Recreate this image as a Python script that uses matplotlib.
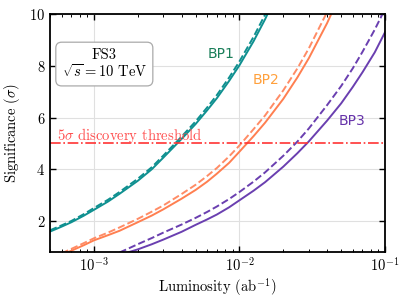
import matplotlib
matplotlib.use("Agg")
import matplotlib.pyplot as plt

plt.rcParams["font.family"] = "serif"
plt.rcParams["font.serif"] = ["cmr10"]
plt.rcParams["mathtext.fontset"] = "cm"
plt.rcParams["axes.formatter.use_mathtext"] = True

# luminosity (ab^-1) and significance
bp1_lumi = [5e-4, 6e-4, 7e-4, 8.5e-4, 1e-3, 1.25e-3, 1.5e-3, 2e-3, 2.5e-3, 3e-3, 4e-3,
            5e-3, 6e-3, 7e-3, 8.5e-3, 1e-2, 1.25e-2, 1.5e-2, 2e-2]
bp1_solid = [1.59, 1.78, 1.95, 2.2, 2.43, 2.75, 3.05, 3.55, 4.0, 4.45, 5.17,
             5.75, 6.28, 6.75, 7.42, 8.02, 8.95, 9.8, 11.3]
bp1_dash = [1.64, 1.83, 2.0, 2.26, 2.5, 2.82, 3.12, 3.63, 4.08, 4.53, 5.26,
            5.85, 6.39, 6.87, 7.55, 8.17, 9.12, 9.98, 11.5]

bp2_lumi = [6e-4, 7e-4, 8.5e-4, 1e-3, 1.25e-3, 1.5e-3, 2e-3, 2.5e-3, 3e-3, 4e-3, 5e-3,
            6e-3, 7e-3, 8.5e-3, 1e-2, 1.25e-2, 1.5e-2, 2e-2, 2.5e-2, 3e-2, 4e-2, 5e-2]
bp2_solid = [0.68, 0.85, 1.06, 1.25, 1.45, 1.62, 1.95, 2.21, 2.45, 2.86, 3.2,
             3.52, 3.83, 4.25, 4.68, 5.28, 5.8, 6.72, 7.55, 8.3, 9.65, 10.85]
bp2_dash = [0.75, 0.92, 1.14, 1.33, 1.55, 1.75, 2.08, 2.36, 2.6, 3.04, 3.4,
            3.74, 4.05, 4.5, 4.92, 5.55, 6.08, 7.05, 7.9, 8.68, 10.08, 11.3]

bp3_lumi = [1.5e-3, 1.75e-3, 2e-3, 2.5e-3, 3e-3, 4e-3, 5e-3, 6e-3, 7e-3, 8.5e-3, 1e-2,
            1.25e-2, 1.5e-2, 2e-2, 2.5e-2, 3e-2, 4e-2, 5e-2, 6e-2, 7e-2, 8.5e-2, 1e-1]
bp3_solid = [0.68, 0.8, 0.9, 1.1, 1.28, 1.58, 1.85, 2.06, 2.25, 2.53, 2.8,
             3.17, 3.5, 4.1, 4.62, 5.08, 5.88, 6.55, 7.18, 7.75, 8.52, 9.3]
bp3_dash = [0.78, 0.95, 1.1, 1.34, 1.55, 1.86, 2.12, 2.35, 2.56, 2.85, 3.12,
            3.52, 3.88, 4.52, 5.07, 5.58, 6.48, 7.22, 7.9, 8.54, 9.4, 10.2]

threshold = 5

fig = plt.figure(figsize=(4.07, 3.0), dpi=100)
ax = fig.add_axes([0.123, 0.16, 0.823, 0.793])

ax.plot(bp1_lumi, bp1_solid, color="#0f9090", lw=1.4)
ax.plot(bp1_lumi, bp1_dash, color="#0f9090", lw=1.4, ls="--")
ax.plot(bp2_lumi, bp2_solid, color="#ff7f50", lw=1.4)
ax.plot(bp2_lumi, bp2_dash, color="#ff8c66", lw=1.4, ls="--")
ax.plot(bp3_lumi, bp3_solid, color="#6a3fb0", lw=1.4)
ax.plot(bp3_lumi, bp3_dash, color="#6a3fb0", lw=1.4, ls="--")

ax.axhline(threshold, color="#ff3333", lw=1.2, ls="-.")
ax.text(5.6e-4, 5.15, r"$5\sigma$ discovery threshold", color="#ff4d4d", fontsize=10.5)

ax.text(6.0e-3, 8.45, "BP1", color="#1b7f5a", fontsize=10, family="DejaVu Sans", va="center")
ax.text(1.24e-2, 7.45, "BP2", color="#ffa03c", fontsize=10, family="DejaVu Sans", va="center")
ax.text(4.8e-2, 5.85, "BP3", color="#6633aa", fontsize=10, family="DejaVu Sans", va="center")

ax.text(0.162, 0.79, "FS3\n" + r"$\sqrt{s}=10$ TeV", transform=ax.transAxes,
        ha="center", va="center", fontsize=10.5, linespacing=1.1,
        bbox=dict(boxstyle="round,pad=0.4", fc="white", ec="#aaaaaa", lw=0.9))

ax.set_xscale("log")
ax.set_xlim(5e-4, 1e-1)
ax.set_ylim(0.8, 10)
ax.set_yticks([2, 4, 6, 8, 10])
ax.grid(True, which="major", color="#e0e0e0", lw=0.8)
ax.set_axisbelow(True)
ax.tick_params(which="both", direction="in", top=True, right=True, labelsize=10.5)
ax.tick_params(which="major", length=4, width=1)
ax.tick_params(which="minor", length=2, width=0.7)
for s in ax.spines.values():
    s.set_linewidth(1.3)

ax.set_xlabel(r"Luminosity (ab$^{-1}$)", fontsize=10.5, labelpad=1)
ax.set_ylabel(r"Significance ($\sigma$)", fontsize=10.5, labelpad=5)

fig.savefig("out.png", dpi=100)
